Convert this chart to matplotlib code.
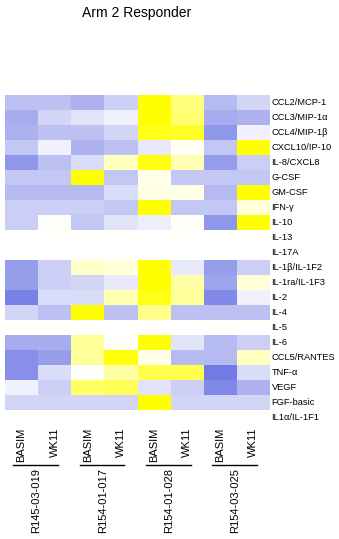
import matplotlib
matplotlib.use("Agg")
import matplotlib.pyplot as plt
import numpy as np
from matplotlib.colors import LinearSegmentedColormap

cytokines = ["CCL2/MCP-1", "CCL3/MIP-1α", "CCL4/MIP-1β", "CXCL10/IP-10", "IL-8/CXCL8",
             "G-CSF", "GM-CSF", "IFN-γ", "IL-10", "IL-13", "IL-17A", "IL-1β/IL-1F2",
             "IL-1ra/IL-1F3", "IL-2", "IL-4", "IL-5", "IL-6", "CCL5/RANTES", "TNF-α",
             "VEGF", "FGF-basic", "IL1α/IL-1F1"]
patients = ["R145-03-019", "R154-01-017", "R154-01-028", "R154-03-025"]
timepoints = ["BASIM", "WK11"]

# relative level per column (-1 = blue, 0 = white, 1 = yellow), one value per cytokine
r145_019_basim = [-0.45, -0.6, -0.55, -0.4, -0.75, -0.4, -0.5, -0.35, -0.35, 0, 0,
                  -0.7, -0.7, -0.9, -0.3, 0, -0.6, -0.8, -0.8, -0.1, -0.3, 0]
r145_019_wk11 = [-0.45, -0.3, -0.45, -0.1, -0.45, -0.4, -0.5, -0.35, 0.02, 0, 0,
                 -0.35, -0.35, -0.25, -0.45, 0, -0.6, -0.7, -0.25, -0.35, -0.3, 0]
r154_017_basim = [-0.55, -0.2, -0.45, -0.55, -0.25, 1.0, -0.5, -0.35, -0.4, 0, 0,
                  0.2, -0.3, -0.25, 1.0, 0, 0.4, 0.4, 0.02, 0.6, -0.3, 0]
r154_017_wk11 = [-0.35, -0.1, -0.3, -0.45, 0.25, -0.4, -0.25, -0.4, -0.2, 0, 0,
                 0.15, -0.15, 0.3, -0.45, 0, 0.02, 0.95, 0.35, 0.65, -0.3, 0]
r154_028_basim = [1.0, 1.0, 0.9, -0.15, 0.95, 0.08, 0.1, 1.0, -0.12, 0, 0,
                  1.0, 1.0, 0.9, 0.45, 0, 1.0, 0.1, 0.7, -0.2, 1.0, 0]
r154_028_wk11 = [0.5, 0.55, 0.85, 0.05, 0.3, -0.4, 0.1, -0.4, 0.02, 0, 0,
                 -0.15, 0.35, 0.4, -0.45, 0, -0.2, -0.5, 0.7, -0.35, -0.3, 0]
r154_025_basim = [-0.5, -0.6, -0.75, -0.4, -0.7, -0.4, -0.5, -0.4, -0.75, 0, 0,
                  -0.7, -0.65, -0.85, -0.45, 0, -0.5, -0.5, -0.95, -0.85, -0.3, 0]
r154_025_wk11 = [-0.3, -0.55, -0.1, 1.0, -0.35, -0.4, 1.0, 0.15, 1.0, 0, 0,
                 -0.35, 0.15, -0.1, -0.45, 0, -0.35, 0.25, -0.25, -0.55, -0.3, 0]

columns = [r145_019_basim, r145_019_wk11, r154_017_basim, r154_017_wk11,
           r154_028_basim, r154_028_wk11, r154_025_basim, r154_025_wk11]
grid = np.array(columns).T

cmap = LinearSegmentedColormap.from_list("by", ["#6a74e2", "#ffffff", "#ffff00"])

fig = plt.figure(figsize=(3.39, 5.39), dpi=100)
ax = fig.add_axes([5 / 339, 1 - 425 / 539, 265 / 339, 330 / 539])
ax.pcolormesh(grid, cmap=cmap, vmin=-1, vmax=1)
ax.set_xlim(0, grid.shape[1])
ax.set_ylim(grid.shape[0], 0)
ax.set_xticks([])
ax.set_yticks([])
for s in ax.spines.values():
    s.set_visible(False)

arial = ["Liberation Sans", "DejaVu Sans"]

for i, name in enumerate(cytokines):
    ax.text(1.006, i + 0.5, name, transform=ax.get_yaxis_transform(),
            ha="left", va="center", fontsize=6.7, family=arial)

tr = ax.get_xaxis_transform()
for g, pat in enumerate(patients):
    for k, tp in enumerate(timepoints):
        ax.text(2 * g + k + 0.5, -0.008, tp, transform=tr, rotation=90,
                ha="center", va="top", fontsize=8, family=arial)
    ax.plot([2 * g + 0.25, 2 * g + 1.6], [-0.121, -0.121], transform=tr,
            color="black", lw=1, clip_on=False)
    ax.text(2 * g + 0.95, -0.13, pat, transform=tr, rotation=90,
            ha="center", va="top", fontsize=8, family=arial)

fig.text(137 / 339, 1 - 13 / 539, "Arm 2 Responder", ha="center", va="center",
         fontsize=10, family=arial)

fig.savefig("out.png", dpi=100)
